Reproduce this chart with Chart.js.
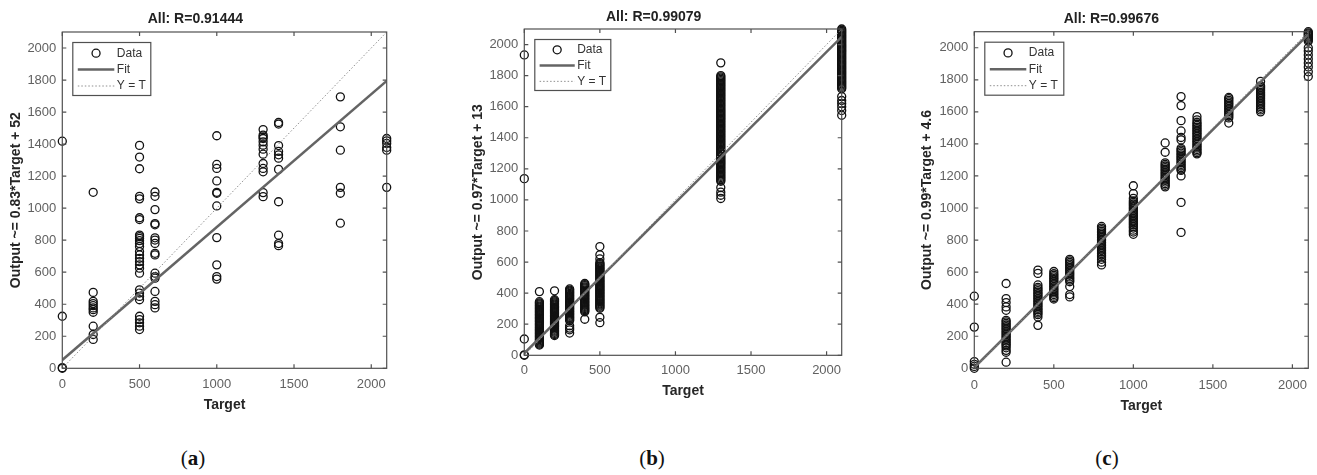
<!DOCTYPE html>
<html>
<head>
<meta charset="utf-8">
<script src="https://cdn.jsdelivr.net/npm/chart.js"></script>
<style>
  body { margin:0; background:#fff; width:1317px; height:475px; position:relative; overflow:hidden; }
  canvas { position:absolute; top:0; }
  .tag { position:absolute; top:446px; font-family:"Liberation Serif", "DejaVu Serif", serif; font-size:21px; color:#111; transform:translateX(-50%); }
</style>
</head>
<body>
<canvas id="c0" width="440" height="420" style="left:0px"></canvas>
<canvas id="c1" width="440" height="420" style="left:440px"></canvas>
<canvas id="c2" width="437" height="420" style="left:880px"></canvas>
<div class="tag" style="left:193px">(<b>a</b>)</div>
<div class="tag" style="left:652px">(<b>b</b>)</div>
<div class="tag" style="left:1107px">(<b>c</b>)</div>

<script>
// Ejes
var axisMax = 2100;
var xTicks = [0, 500, 1000, 1500, 2000];
var yTicks = [0, 200, 400, 600, 800, 1000, 1200, 1400, 1600, 1800, 2000];

var titles = ["All: R=0.91444", "All: R=0.99079", "All: R=0.99676"];
var yTitles = ["Output ~= 0.83*Target + 52", "Output ~= 0.97*Target + 13", "Output ~= 0.99*Target + 4.6"];
var xTitle = "Target";
var legendLabels = ["Data", "Fit", "Y = T"];
var fitSlopes = [0.83, 0.97, 0.99];
var fitIntercepts = [52, 13, 4.6];

// (a) outputs grouped by target
var targetsA = [0, 200, 500, 600, 1000, 1300, 1400, 1800, 2100];
var outputsA = [
  [1418, 325, 4, 0],
  [1099, 474, 418, 404, 391, 377, 366, 350, 263, 211, 180],
  [1392, 1319, 1246, 1074, 1058, 940, 929, 832, 822, 811, 797, 780, 760, 729, 708, 687, 666, 646, 625, 594, 490, 470, 449, 428, 325, 304, 284, 263, 242],
  [1101, 1074, 991, 904, 896, 815, 801, 780, 718, 708, 594, 573, 563, 480, 418, 397, 377],
  [1452, 1273, 1248, 1170, 1099, 1093, 1014, 816, 646, 573, 557],
  [1491, 1456, 1445, 1435, 1414, 1393, 1368, 1337, 1279, 1248, 1227, 1097, 1072],
  [1535, 1525, 1391, 1354, 1333, 1312, 1242, 1040, 831, 779, 766],
  [1695, 1508, 1362, 1130, 1093, 906],
  [1435, 1420, 1404, 1379, 1362, 1130]
];

// (b)
var targetsB = [0, 100, 200, 300, 400, 500, 1300, 2100];
var outputsB = [
  [0, 3, 105, 1137, 1933],
  [410, 345, 338, 331, 324, 317, 310, 303, 296, 289, 282, 275, 268, 261, 254, 247, 240, 233, 226, 219, 212, 205, 198, 191, 184, 177, 170, 163, 156, 149, 142, 135, 128, 121, 114, 107, 100, 93, 86, 79, 72, 66],
  [415, 358, 351, 344, 337, 330, 323, 316, 309, 302, 295, 288, 281, 274, 267, 260, 253, 246, 239, 232, 225, 218, 211, 204, 197, 190, 183, 176, 169, 162, 155, 148, 141, 134, 127],
  [427, 420, 413, 406, 399, 392, 385, 378, 371, 364, 357, 350, 343, 336, 329, 322, 315, 308, 301, 294, 287, 280, 273, 266, 259, 252, 245, 238, 231, 224, 190, 175, 164, 143],
  [462, 455, 448, 441, 434, 427, 420, 413, 406, 399, 392, 385, 378, 371, 364, 357, 350, 343, 336, 329, 322, 315, 308, 301, 294, 287, 280, 232],
  [700, 647, 620, 597, 590, 583, 576, 569, 562, 555, 548, 541, 534, 527, 520, 513, 506, 499, 492, 485, 478, 471, 464, 457, 450, 443, 436, 429, 422, 415, 408, 401, 394, 387, 380, 373, 366, 359, 352, 345, 338, 331, 324, 317, 310, 303, 245, 210],
  [1882, 1800, 1792, 1784, 1776, 1768, 1760, 1752, 1744, 1736, 1728, 1720, 1712, 1704, 1696, 1688, 1680, 1672, 1664, 1656, 1648, 1640, 1632, 1624, 1616, 1608, 1600, 1592, 1584, 1576, 1568, 1560, 1552, 1544, 1536, 1528, 1520, 1512, 1504, 1496, 1488, 1480, 1472, 1464, 1456, 1448, 1440, 1432, 1424, 1416, 1408, 1400, 1392, 1384, 1376, 1368, 1360, 1352, 1344, 1336, 1328, 1320, 1312, 1304, 1296, 1288, 1280, 1272, 1264, 1256, 1248, 1240, 1232, 1224, 1216, 1208, 1200, 1192, 1184, 1176, 1168, 1160, 1152, 1144, 1136, 1128, 1120, 1080, 1050, 1030, 1009],
  [2100, 2092, 2084, 2076, 2068, 2060, 2052, 2044, 2036, 2028, 2020, 2012, 2004, 1996, 1988, 1980, 1972, 1964, 1956, 1948, 1940, 1932, 1924, 1916, 1908, 1900, 1892, 1884, 1876, 1868, 1860, 1852, 1844, 1836, 1828, 1820, 1812, 1804, 1796, 1788, 1780, 1772, 1764, 1756, 1748, 1740, 1732, 1724, 1716, 1665, 1640, 1620, 1600, 1575, 1545]
];

// (c)
var targetsC = [0, 200, 400, 500, 600, 800, 1000, 1200, 1300, 1400, 1600, 1800, 2100];
var outputsC = [
  [450, 257, 42, 25, 12, 0],
  [529, 435, 410, 383, 362, 299, 290, 280, 270, 260, 250, 240, 230, 220, 210, 200, 190, 180, 170, 160, 150, 140, 128, 112, 100, 38],
  [613, 592, 520, 505, 495, 485, 475, 465, 455, 445, 435, 425, 415, 405, 395, 385, 375, 365, 355, 345, 335, 320, 268],
  [604, 590, 580, 570, 560, 550, 540, 530, 520, 510, 500, 490, 480, 470, 460, 450, 440, 432],
  [680, 670, 660, 650, 640, 630, 620, 610, 600, 590, 580, 570, 560, 550, 540, 510, 460, 445],
  [885, 875, 865, 855, 845, 835, 825, 815, 805, 795, 785, 775, 765, 755, 745, 735, 725, 715, 705, 695, 680, 662, 645],
  [1139, 1090, 1060, 1045, 1035, 1025, 1015, 1005, 995, 985, 975, 965, 955, 945, 935, 925, 915, 905, 895, 885, 875, 862, 850, 836],
  [1406, 1348, 1282, 1272, 1262, 1252, 1242, 1232, 1222, 1212, 1202, 1192, 1182, 1172, 1162, 1152, 1142, 1132],
  [1695, 1639, 1545, 1481, 1440, 1425, 1372, 1362, 1352, 1342, 1332, 1322, 1312, 1302, 1292, 1282, 1272, 1262, 1252, 1242, 1235, 1200, 1035, 848],
  [1570, 1550, 1535, 1525, 1515, 1505, 1495, 1485, 1475, 1465, 1455, 1445, 1435, 1425, 1415, 1405, 1395, 1385, 1375, 1365, 1355, 1345, 1338],
  [1690, 1682, 1672, 1662, 1652, 1642, 1632, 1622, 1612, 1602, 1592, 1582, 1572, 1562, 1530],
  [1790, 1762, 1752, 1742, 1732, 1722, 1712, 1702, 1692, 1682, 1672, 1662, 1652, 1642, 1632, 1622, 1612, 1600],
  [2100, 2093, 2086, 2079, 2072, 2065, 2058, 2050, 2040, 2000, 1980, 1955, 1930, 1905, 1880, 1850, 1820]
];

var allTargets = [targetsA, targetsB, targetsC];
var allOutputs = [outputsA, outputsB, outputsC];

// Estilo
var fontFamily = '"Liberation Sans", Arial, sans-serif';
var frameColor = "#505050";
var tickColor = "#616161";
var markerColor = "#111111";
var fitColor = "#646464";
var identColor = "#8f8f8f";

// posicion de cada panel (padding, alto/ancho de ejes)
var layouts = [
  { pad: {left: 4, right: 53.3, top: 0, bottom: 2.6}, yWidth: 58.3, xHeight: 49.1, titlePad: {top: 10.6, bottom: 4.6}, xTickPad: 8, legend: [78, 53] },
  { pad: {left: 25.6, right: 38.3, top: 0, bottom: 16.6}, yWidth: 58.7, xHeight: 48.1, titlePad: {top: 8.3, bottom: 3.9}, xTickPad: 7, legend: [76, 51] },
  { pad: {left: 34.3, right: 8.7, top: 0, bottom: 1.9}, yWidth: 60, xHeight: 49.8, titlePad: {top: 10.9, bottom: 4.0}, xTickPad: 9, legend: [79, 53] }
];

// Caixa estilo MATLAB: moldura, ticks para dentro, legenda
var matlabFrame = {
  id: "matlabFrame",
  afterDraw: function (chart) {
    var ctx = chart.ctx, a = chart.chartArea;
    var xs = chart.scales.x, ys = chart.scales.y;
    var tl = 4;
    ctx.save();
    ctx.strokeStyle = frameColor;
    ctx.lineWidth = 1.2;
    ctx.strokeRect(a.left, a.top, a.right - a.left, a.bottom - a.top);
    ctx.beginPath();
    xs.ticks.forEach(function (t) {
      var px = xs.getPixelForValue(t.value);
      ctx.moveTo(px, a.bottom); ctx.lineTo(px, a.bottom - tl);
      ctx.moveTo(px, a.top); ctx.lineTo(px, a.top + tl);
    });
    ys.ticks.forEach(function (t) {
      var py = ys.getPixelForValue(t.value);
      ctx.moveTo(a.left, py); ctx.lineTo(a.left + tl, py);
      ctx.moveTo(a.right, py); ctx.lineTo(a.right - tl, py);
    });
    ctx.stroke();

    // legenda
    var ds = chart.data.datasets;
    var size = chart.options.plugins.matlabFrame.legend;
    var bx = a.left + 10.5, by = a.top + 10.5, bw = size[0], bh = size[1];
    var k = bh / 53;
    ctx.fillStyle = "#fff";
    ctx.fillRect(bx, by, bw, bh);
    ctx.lineWidth = 1.2;
    ctx.strokeStyle = frameColor;
    ctx.strokeRect(bx, by, bw, bh);
    var rows = [by + 10.7 * k, by + 27 * k, by + 43.5 * k];
    var x0 = bx + 5 * k, x1 = bx + 41.5 * k;

    ctx.beginPath();
    ctx.arc((x0 + x1) / 2, rows[0], ds[0].pointRadius, 0, 2 * Math.PI);
    ctx.strokeStyle = ds[0].borderColor;
    ctx.lineWidth = ds[0].borderWidth;
    ctx.stroke();

    [1, 2].forEach(function (i) {
      ctx.beginPath();
      ctx.setLineDash(ds[i].borderDash || []);
      ctx.strokeStyle = ds[i].borderColor;
      ctx.lineWidth = ds[i].borderWidth;
      ctx.moveTo(x0, rows[i]); ctx.lineTo(x1, rows[i]);
      ctx.stroke();
    });
    ctx.setLineDash([]);

    ctx.font = "12px " + fontFamily;
    ctx.fillStyle = "#333";
    ctx.textBaseline = "middle";
    ctx.textAlign = "left";
    ds.forEach(function (d, i) {
      ctx.fillText(d.label, bx + 44 * k, rows[i]);
    });
    ctx.restore();
  }
};

function makeChart(i) {
  var L = layouts[i];
  var pts = [];
  allTargets[i].forEach(function (t, j) {
    allOutputs[i][j].forEach(function (v) { pts.push({x: t, y: v}); });
  });
  var fitPts = [
    {x: 0, y: fitIntercepts[i]},
    {x: axisMax, y: fitSlopes[i] * axisMax + fitIntercepts[i]}
  ];
  var identPts = [{x: 0, y: 0}, {x: axisMax, y: axisMax}];

  var tickFont = {family: fontFamily, size: 13};
  var titleFont = {family: fontFamily, size: 14, weight: "bold"};

  new Chart(document.getElementById("c" + i), {
    type: "scatter",
    data: {
      datasets: [
        { label: legendLabels[0], data: pts, pointStyle: "circle", pointRadius: 4, pointHoverRadius: 4,
          borderColor: markerColor, backgroundColor: "rgba(0,0,0,0)", borderWidth: 1.3, clip: false, order: 3 },
        { label: legendLabels[1], type: "line", data: fitPts, borderColor: fitColor, borderWidth: 2.5,
          pointRadius: 0, fill: false, order: 2 },
        { label: legendLabels[2], type: "line", data: identPts, borderColor: identColor, borderWidth: 1,
          borderDash: [1.5, 2], pointRadius: 0, fill: false, order: 1 }
      ]
    },
    options: {
      responsive: false,
      animation: false,
      events: [],
      layout: {padding: L.pad},
      plugins: {
        legend: {display: false},
        tooltip: {enabled: false},
        title: {display: true, text: titles[i], color: "#222", font: titleFont, padding: L.titlePad},
        matlabFrame: {legend: L.legend}
      },
      scales: {
        x: {
          type: "linear", min: 0, max: axisMax,
          grid: {display: false, drawTicks: false},
          border: {display: false},
          afterBuildTicks: function (s) { s.ticks = xTicks.map(function (v) { return {value: v}; }); },
          afterFit: function (s) { s.height = L.xHeight; },
          ticks: {padding: L.xTickPad, color: tickColor, font: tickFont, maxRotation: 0, autoSkip: false,
                  callback: function (v) { return String(v); }},
          title: {display: true, text: xTitle, color: "#262626", font: titleFont}
        },
        y: {
          type: "linear", min: 0, max: axisMax,
          grid: {display: false, drawTicks: false},
          border: {display: false},
          afterBuildTicks: function (s) { s.ticks = yTicks.map(function (v) { return {value: v}; }); },
          afterFit: function (s) { s.width = L.yWidth; },
          ticks: {padding: 6, color: tickColor, font: tickFont, autoSkip: false,
                  callback: function (v) { return String(v); }},
          title: {display: true, text: yTitles[i], color: "#262626", font: titleFont}
        }
      }
    },
    plugins: [matlabFrame]
  });
}

makeChart(0);
makeChart(1);
makeChart(2);
</script>
</body>
</html>
